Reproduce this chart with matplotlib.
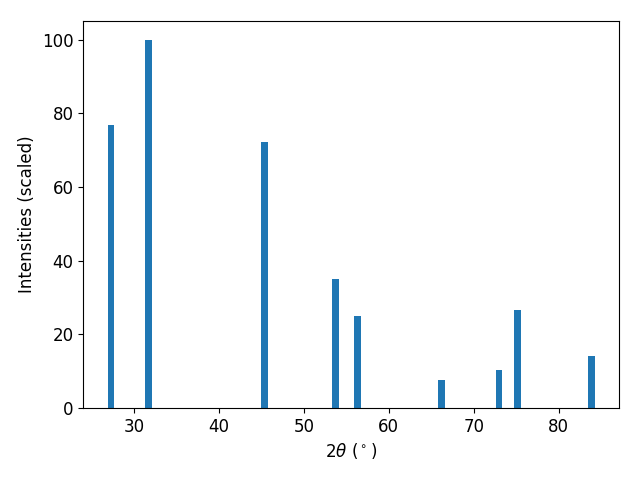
import matplotlib
matplotlib.use('Agg')
import matplotlib.pyplot as plt

# peak positions (2theta, degrees) and scaled intensities
two_theta=[27.3,31.7,45.35,53.7,56.3,66.15,72.95,75.15,83.8]
intensity=[76.9,100.0,72.3,34.9,25.1,7.7,10.2,26.7,14.2]

fig,ax=plt.subplots(figsize=(6.4,4.8),dpi=100)
ax.bar(two_theta,intensity)
ax.set_xlabel(r'$2\theta$ ($^\circ$)',fontsize=12)
ax.set_ylabel('Intensities (scaled)',fontsize=12)
ax.tick_params(labelsize=12)
fig.subplots_adjust(left=0.130,right=0.967,top=0.956,bottom=0.15)
fig.savefig('out.png')
